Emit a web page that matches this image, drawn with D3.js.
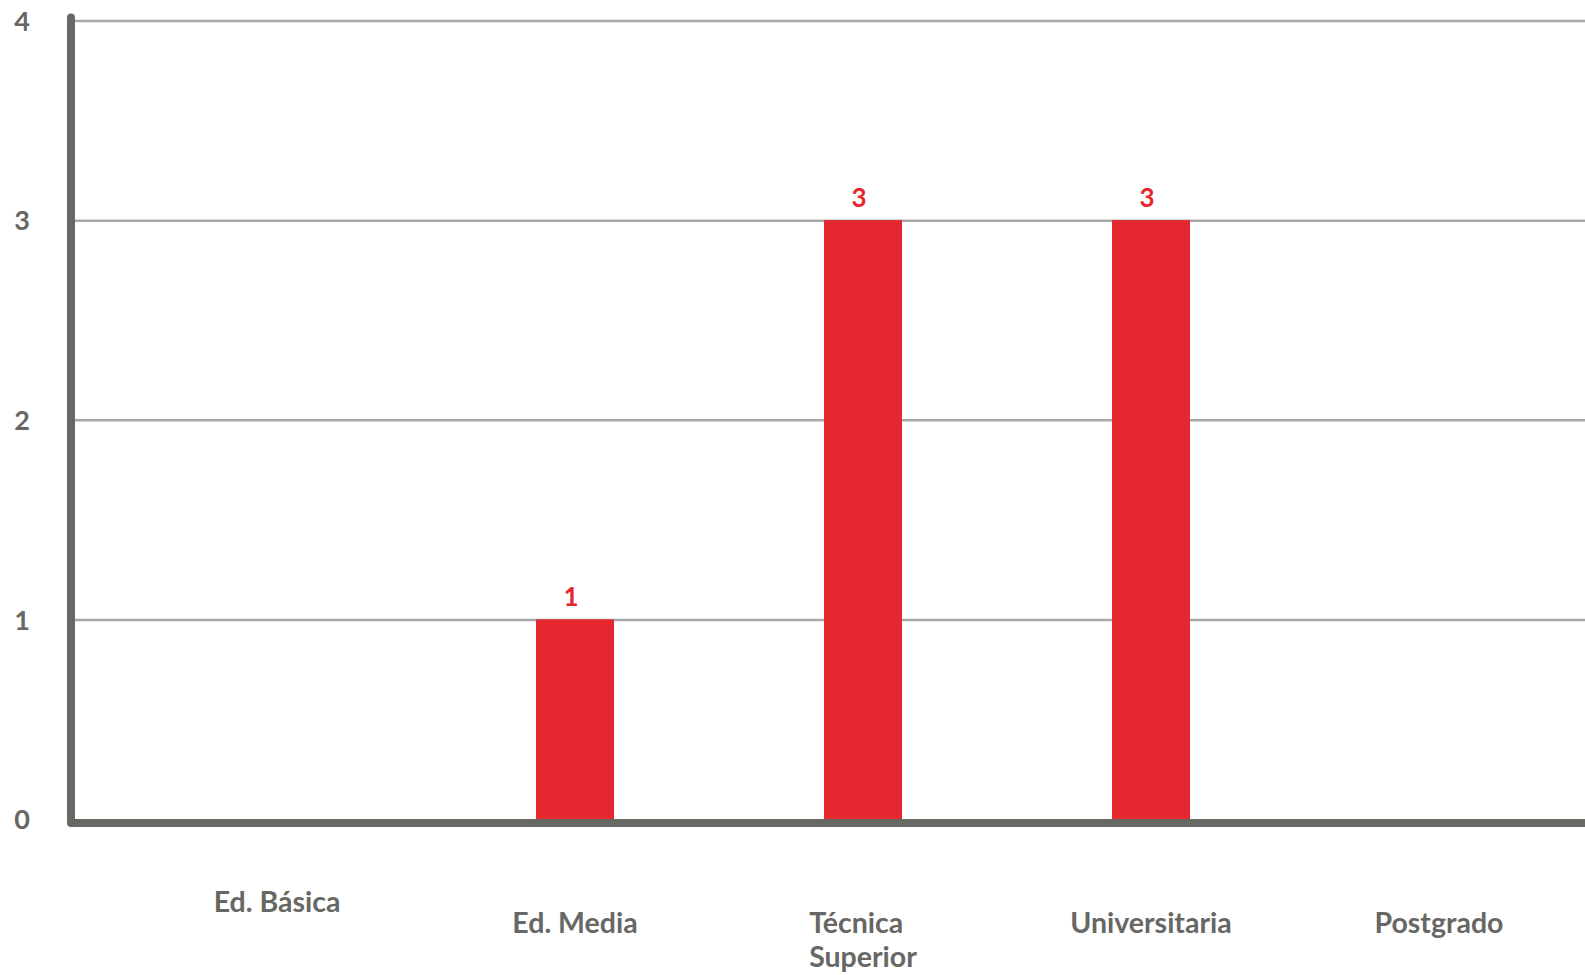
<!DOCTYPE html>
<html>
<head>
<meta charset="utf-8">
<script src="https://cdn.jsdelivr.net/npm/d3@7"></script>
<style>
  html, body { margin: 0; padding: 0; background: #fff; overflow: hidden; }
  svg { display: block; }
</style>
</head>
<body>
<svg id="chart" width="1585" height="975"></svg>
<script>
// ---- data ----
const categories = ["Ed. Básica", "Ed. Media", "Técnica Superior", "Universitaria", "Postgrado"];
const values = [0, 1, 3, 3, 0];
const tickValues = [0, 1, 2, 3, 4];
const tickLabels = ["0", "1", "2", "3", "4"];
const categoryLines = [["Ed. Básica"], ["Ed. Media"], ["Técnica", "Superior"], ["Universitaria"], ["Postgrado"]];

// ---- style ----
const W = 1585, H = 975;
const red = "#e6272f";
const grey = "#676763";
const gridGrey = "#a9a9a9";
const font = "Lato, 'Open Sans', sans-serif";

const svg = d3.select("#chart");

const axisX = 71;
const y = d3.scaleLinear().domain([0, 4]).range([819, 20.5]);
const x = d3.scaleBand().domain(categories).range([143, 1583])
  .paddingInner(0.729).paddingOuter(0.3645);

// gridlines + tick labels via axis
const yAxis = d3.axisLeft(y)
  .tickValues(tickValues)
  .tickSize(-(W - axisX))
  .tickFormat((d, i) => tickLabels[i]);

const gAxis = svg.append("g")
  .attr("transform", `translate(${axisX},0)`)
  .call(yAxis);
gAxis.select(".domain").remove();
gAxis.selectAll(".tick line")
  .attr("stroke", gridGrey)
  .attr("stroke-width", 2.5)
  .attr("display", d => d === 0 ? "none" : null);
gAxis.selectAll(".tick text")
  .attr("x", 22 - axisX)
  .attr("dy", "0.36em")
  .attr("text-anchor", "middle")
  .attr("fill", grey)
  .style("font-family", font)
  .style("font-weight", 700)
  .style("font-size", "27px");

// bars
svg.append("g").selectAll("rect")
  .data(values)
  .join("rect")
  .attr("x", (d, i) => x(categories[i]))
  .attr("width", x.bandwidth())
  .attr("y", d => y(d))
  .attr("height", d => y(0) - y(d))
  .attr("fill", red);

// value labels
svg.append("g").selectAll("text")
  .data(values.map((v, i) => ({ v, c: categories[i] })).filter(d => d.v > 0))
  .join("text")
  .attr("x", d => x(d.c) + x.bandwidth() / 2 - 4)
  .attr("y", d => y(d.v) - 13)
  .attr("text-anchor", "middle")
  .attr("fill", red)
  .style("font-family", font)
  .style("font-weight", 700)
  .style("font-size", "26px")
  .text(d => d.v);

// axis frame (L shape)
svg.append("path")
  .attr("d", d3.line()([[axisX, y(4) - 3], [axisX, y(0) + 4], [W + 10, y(0) + 4]]))
  .attr("fill", "none")
  .attr("stroke", grey)
  .attr("stroke-width", 8)
  .attr("stroke-linecap", "round")
  .attr("stroke-linejoin", "round");

// category labels
const labelBase = 933;
const lineH = 34;
const gLab = svg.append("g");
categoryLines.forEach((lines, i) => {
  const cx = x(categories[i]) + x.bandwidth() / 2;
  const raise = (i === 0) ? 21 : 0;
  const shift = (i === 0) ? -10 : 0;
  const t = gLab.append("text")
    .attr("fill", grey)
    .style("font-family", font)
    .style("font-weight", 700)
    .style("font-size", "28.5px");
  lines.forEach((ln, k) => {
    t.append("tspan").attr("y", labelBase - raise + k * lineH).text(ln);
  });
  // left-aligned block centred on band
  let maxW = 0;
  t.selectAll("tspan").each(function () { maxW = Math.max(maxW, this.getComputedTextLength()); });
  t.selectAll("tspan").attr("x", cx - maxW / 2 + shift);
});
</script>
</body>
</html>
